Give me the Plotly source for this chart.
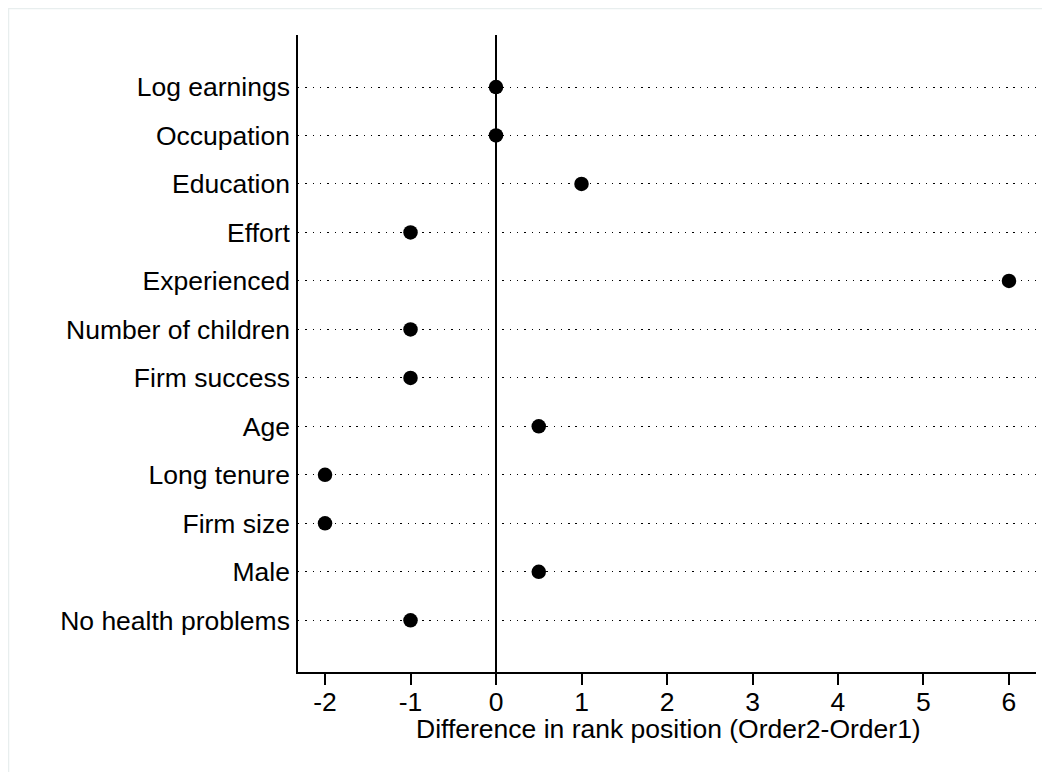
import plotly.graph_objects as go

categories = ["Log earnings", "Occupation", "Education", "Effort", "Experienced",
              "Number of children", "Firm success", "Age", "Long tenure",
              "Firm size", "Male", "No health problems"]
values = [0, 0, 1, -1, 6, -1, -1, 0.5, -2, -2, 0.5, -1]
x_ticks = [-2, -1, 0, 1, 2, 3, 4, 5, 6]
x_title = "Difference in rank position (Order2-Order1)"

OFF = 8  # page body margin
W, H = 1050 - OFF, 772 - OFF
L, R, T, B = 298 - OFF, 14, 35 - OFF, 100
pw, ph = W - L - R, H - T - B

fig = go.Figure()
fig.add_trace(go.Scatter(
    x=values, y=categories, mode="markers",
    marker=dict(size=14.5, color="black", line=dict(width=0)),
    cliponaxis=False, showlegend=False,
))

font = dict(family="Liberation Sans, Arial, sans-serif", size=26.5, color="black")
n = len(categories)
fig.update_layout(
    width=W, height=H,
    margin=dict(l=L, r=R, t=T, b=B, pad=0),
    paper_bgcolor="white", plot_bgcolor="white",
    font=font,
    xaxis=dict(
        range=[-2.316, 6.316], tickvals=x_ticks, ticktext=[str(v) for v in x_ticks],
        showgrid=False, zeroline=True, zerolinecolor="black", zerolinewidth=2,
        showline=True, linecolor="black", linewidth=1.5, mirror=False,
        ticks="outside", ticklen=11, tickwidth=1.5, tickcolor="black",
        ticklabelstandoff=-6,
        automargin=False, fixedrange=True,
    ),
    yaxis=dict(
        categoryorder="array", categoryarray=categories[::-1],
        range=[-1.067, n - 1 + 1.073],
        showgrid=True, gridcolor="black", gridwidth=1.4, griddash="1.4px,5.9px",
        showline=True, linecolor="black", linewidth=1.5,
        ticks="", ticklabelstandoff=1,
        automargin=False, fixedrange=True, zeroline=False,
    ),
)

def px(xp):
    return (xp - OFF - L) / pw

def py(yp):
    return (H - B - (yp - OFF)) / ph

fig.add_annotation(text=x_title, xref="paper", yref="paper",
                   x=px(668), y=py(729), xanchor="center", yanchor="middle",
                   showarrow=False, font=font)

border = "#e8eeee"
fig.add_shape(type="line", xref="paper", yref="paper",
              x0=px(8), x1=px(1060), y0=py(8.5), y1=py(8.5),
              line=dict(color=border, width=1.5), layer="below")
fig.add_shape(type="line", xref="paper", yref="paper",
              x0=px(8.5), x1=px(8.5), y0=py(8), y1=py(780),
              line=dict(color=border, width=1.5), layer="below")

fig.write_html("out.html")
